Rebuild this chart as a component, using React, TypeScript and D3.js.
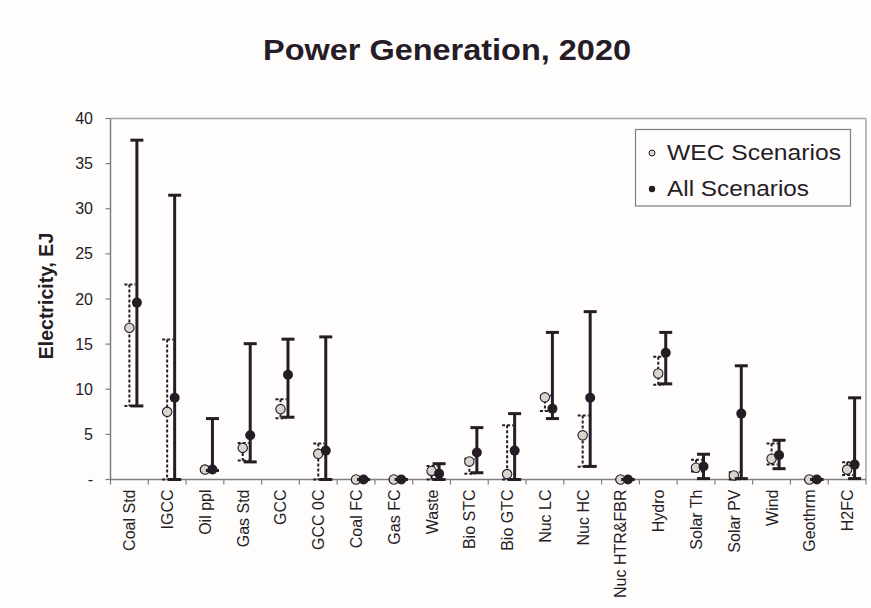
import React from "react";
import * as d3 from "d3";

const categories = ["Coal Std","IGCC","Oil ppl","Gas Std","GCC","GCC 0C","Coal FC","Gas FC","Waste","Bio STC","Bio GTC","Nuc LC","Nuc HC","Nuc HTR&FBR","Hydro","Solar Th","Solar PV","Wind","Geothrm","H2FC"];

const wecMid  = [16.8, 7.5, 1.1, 3.5, 7.8, 2.85, 0, 0, 0.95, 2.0, 0.6, 9.1, 4.9, 0, 11.75, 1.3, 0.45, 2.3, 0, 1.1];
const wecLow  = [8.15, 0, 1.0, 2.1, 6.8, 0, 0, 0, 0, 0.65, 0, 7.6, 1.4, 0, 10.5, 0.9, 0, 1.65, 0, 0.5];
const wecHigh = [21.6, 15.5, 1.2, 4.05, 8.9, 4.0, 0, 0, 1.5, 2.3, 6.0, 9.3, 7.1, 0, 13.6, 2.2, 0.8, 4.0, 0, 1.9];

const allMid  = [19.6, 9.05, 1.1, 4.9, 11.6, 3.2, 0, 0, 0.65, 3.0, 3.2, 7.85, 9.05, 0, 14.05, 1.45, 7.3, 2.7, 0, 1.65];
const allLow  = [8.15, 0, 1.0, 1.95, 6.9, 0, 0, 0, 0, 0.75, 0, 6.75, 1.45, 0, 10.6, 0.1, 0.1, 1.2, 0, 0.1];
const allHigh = [37.6, 31.5, 6.75, 15.05, 15.55, 15.8, 0, 0, 1.75, 5.75, 7.3, 16.3, 18.6, 0, 16.3, 2.8, 12.6, 4.35, 0, 9.05];

const yTicks = [0, 5, 10, 15, 20, 25, 30, 35, 40];
const legendLabels = ["WEC Scenarios", "All Scenarios"];

const DARK = "#261c26";
const WEC_FILL = "#d9d5cd";
const AXIS = "#7f7f7f";
const FRAME = "#a6a6a6";
const FONT = "'Liberation Sans', Arial, sans-serif";

export default function App() {
  const W = 871, H = 608;
  const left = 110.5, right = 866, top = 118.5, bottom = 479.5;
  const x = d3.scaleBand<string>().domain(categories).range([left, right]).padding(0);
  const y = d3.scaleLinear().domain([0, 40]).range([bottom, top]);
  const bw = x.bandwidth();
  const cx = (i: number) => (x(categories[i]) as number) + bw / 2;
  const allOff = 7.5;

  return (
    <svg width={W} height={H} style={{ position: "absolute", left: 0, top: 0, background: "#fefdfc" }} fontFamily={FONT}>
      <rect x={0} y={0} width={W} height={H} fill="#fefdfc" />
      {/* title */}
      <text x={263} y={59.5} fontSize={30} fontWeight="bold" fill={DARK} textLength={368} lengthAdjust="spacingAndGlyphs">Power Generation, 2020</text>

      {/* frame */}
      <line x1={left} x2={right} y1={top} y2={top} stroke={FRAME} strokeWidth={1.5} />
      <line x1={right} x2={right} y1={top} y2={bottom} stroke={FRAME} strokeWidth={1.5} />

      {/* y axis */}
      <line x1={left} x2={left} y1={top} y2={bottom} stroke={AXIS} strokeWidth={1.5} />
      {yTicks.map((t) => (
        <g key={t}>
          <line x1={left - 5} x2={left} y1={y(t)} y2={y(t)} stroke={AXIS} strokeWidth={1.2} />
          <text x={93} y={y(t) + 5.5} fontSize={16} textAnchor="end" fill={DARK}>{t === 0 ? "-" : t}</text>
        </g>
      ))}
      <text transform={`translate(53,296) rotate(-90)`} fontSize={19.5} fontWeight="bold" textAnchor="middle" fill={DARK}>Electricity, EJ</text>

      {/* x axis */}
      <line x1={left} x2={right} y1={bottom} y2={bottom} stroke={AXIS} strokeWidth={1.5} />
      {categories.concat(["__end"]).map((c, i) => {
        const xx = left + i * bw;
        return <line key={"t" + i} x1={xx} x2={xx} y1={bottom} y2={bottom + 5} stroke={AXIS} strokeWidth={1.2} />;
      })}
      {categories.map((c, i) => (
        <text key={"l" + i} transform={`translate(${cx(i) + 6},${bottom + 10}) rotate(-90)`} fontSize={16} textAnchor="end" fill={DARK}>{c}</text>
      ))}

      {/* WEC error bars */}
      {categories.map((c, i) => {
        const xx = cx(i);
        return (
          <g key={"we" + i} stroke={DARK} strokeDasharray="3,2" fill="none">
            <line x1={xx} x2={xx} y1={y(wecHigh[i])} y2={y(wecLow[i])} strokeWidth={2} />
            <line x1={xx - 5} x2={xx + 6} y1={y(wecHigh[i])} y2={y(wecHigh[i])} strokeWidth={2} />
            <line x1={xx - 5} x2={xx + 6} y1={y(wecLow[i])} y2={y(wecLow[i])} strokeWidth={2} />
          </g>
        );
      })}
      {categories.map((c, i) => (
        <circle key={"wd" + i} cx={cx(i)} cy={y(wecMid[i])} r={4.7} fill={WEC_FILL} stroke={DARK} strokeWidth={1.1} />
      ))}

      {/* All error bars */}
      {categories.map((c, i) => {
        const xx = cx(i) + allOff;
        return (
          <g key={"ae" + i} stroke={DARK} fill="none">
            <line x1={xx} x2={xx} y1={y(allHigh[i])} y2={y(allLow[i])} strokeWidth={3} />
            <line x1={xx - 6.5} x2={xx + 6.5} y1={y(allHigh[i])} y2={y(allHigh[i])} strokeWidth={3} />
            <line x1={xx - 6.5} x2={xx + 6.5} y1={y(allLow[i])} y2={y(allLow[i])} strokeWidth={3} />
          </g>
        );
      })}
      {categories.map((c, i) => (
        <circle key={"ad" + i} cx={cx(i) + allOff} cy={y(allMid[i])} r={5} fill={DARK} />
      ))}

      {/* legend */}
      <rect x={635.5} y={129.5} width={215} height={76.5} fill="#fefdfc" stroke={AXIS} strokeWidth={1.2} />
      <circle cx={652} cy={153} r={3} fill={WEC_FILL} stroke={DARK} strokeWidth={1} />
      <text x={667} y={159.5} fontSize={22} fill={DARK} textLength={174} lengthAdjust="spacingAndGlyphs">{legendLabels[0]}</text>
      <circle cx={652} cy={189} r={3.2} fill={DARK} />
      <text x={667} y={196} fontSize={22} fill={DARK} textLength={142} lengthAdjust="spacingAndGlyphs">{legendLabels[1]}</text>
    </svg>
  );
}
